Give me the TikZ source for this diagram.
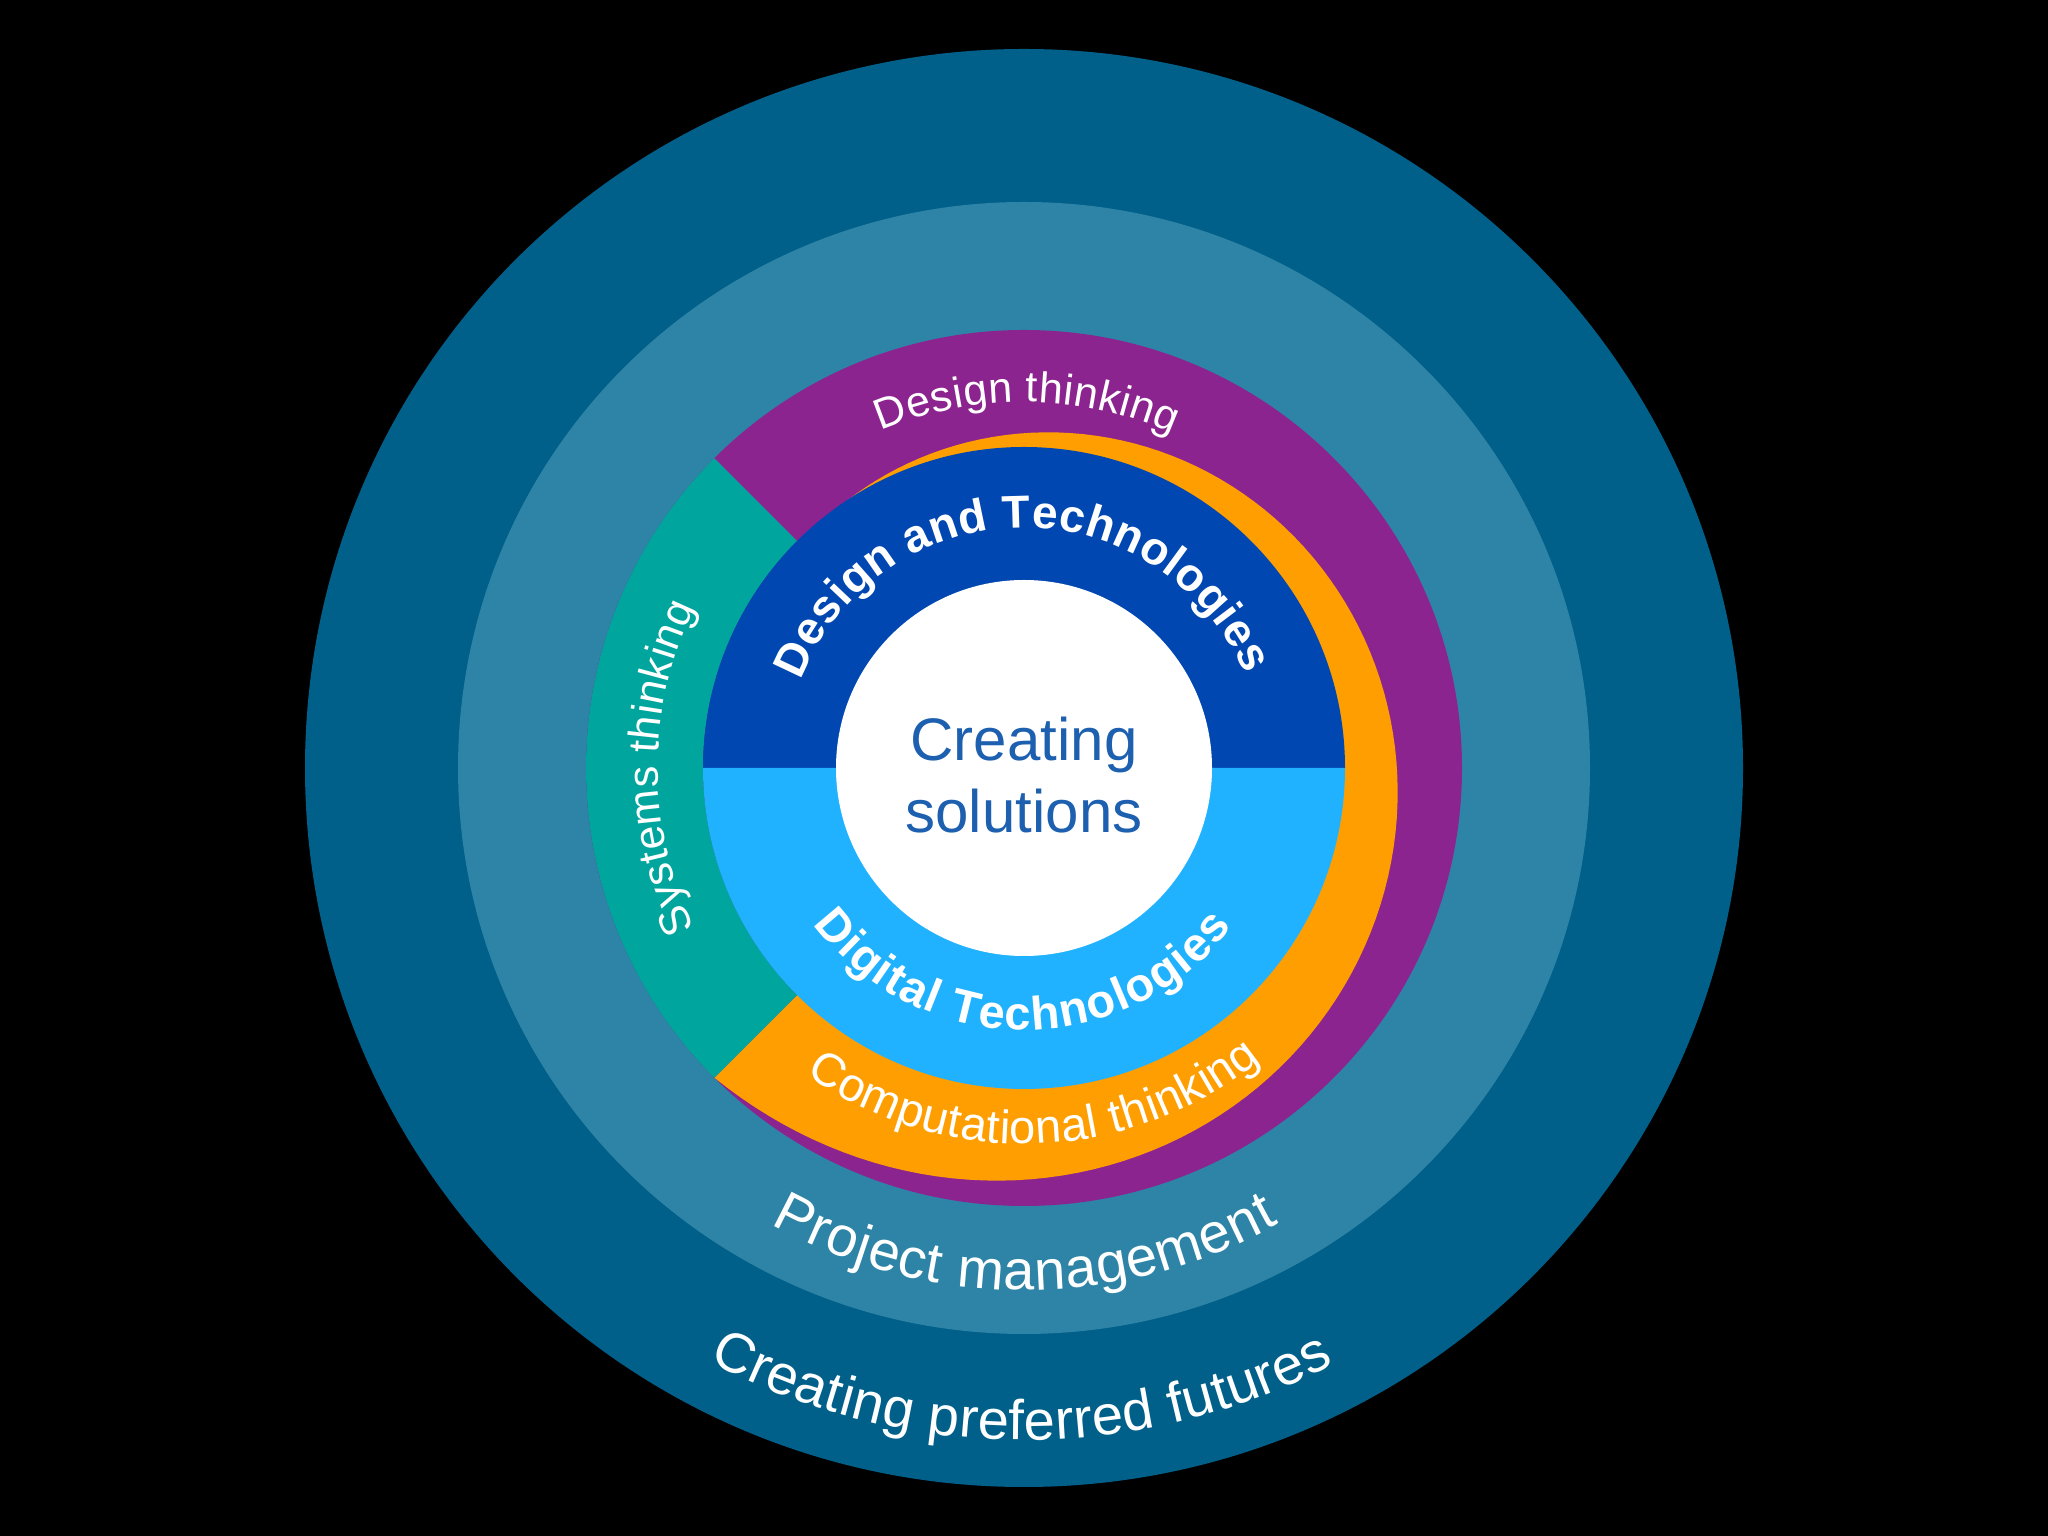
\documentclass[tikz,border=0pt]{standalone}
\usepackage{fontspec}
\setmainfont{Liberation Sans}
\usetikzlibrary{decorations.text}
\definecolor{outerc}{RGB}{0,96,138}
\definecolor{lightc}{RGB}{46,132,166}
\definecolor{purplec}{RGB}{140,36,143}
\definecolor{orangec}{RGB}{255,158,0}
\definecolor{tealc}{RGB}{0,166,157}
\definecolor{darkbluec}{RGB}{0,71,178}
\definecolor{lightbluec}{RGB}{32,178,255}
\definecolor{textbluec}{RGB}{30,96,176}
\newcommand\thinkfont{\color{white}\fontsize{12.24pt}{14pt}\selectfont}
\newcommand\compfont{\color{white}\fontsize{13.37pt}{15pt}\selectfont}
\newcommand\techfont{\color{white}\bfseries\fontsize{13.09pt}{15pt}\selectfont}
\newcommand\digifont{\color{white}\bfseries\fontsize{13.37pt}{15pt}\selectfont}
\newcommand\bigringfont{\color{white}\fontsize{15.93pt}{18pt}\selectfont}
\begin{document}
\begin{tikzpicture}[x=0.01cm,y=0.01cm,
  ringtext/.style={decorate, decoration={text along path, text align=fit to path, text={#1}}}]
\useasboundingbox (0,0) rectangle (2048,1536);
\fill[black] (0,0) rectangle (2048,1536);
\begin{scope}[shift={(1024,768)}]
  % rings
  \fill[outerc] (0,0) circle[radius=719];
  \fill[lightc] (0,0) circle[radius=566];
  \fill[purplec] (0,0) circle[radius=438];
  % orange spiral band
  \fill[orangec] (0,0) -- plot[domain=225:486, samples=120] (\x:{430-0.423*(\x-225)+8*exp(-(\x-225)/20)}) -- cycle;
  % teal sector
  \fill[tealc] (135:321) arc[start angle=135, end angle=225, radius=321] -- (225:438) arc[start angle=225, end angle=135, radius=438] -- cycle;
  % inner halves
  \fill[darkbluec] (321,0) arc[start angle=0, end angle=180, radius=321] -- cycle;
  \fill[lightbluec] (-321,0) arc[start angle=180, end angle=360, radius=321] -- cycle;
  \fill[white] (0,0) circle[radius=188];
  % centre text
  \node[textbluec, font=\fontsize{17.07pt}{20pt}\selectfont, anchor=base, inner sep=0pt] (cs1) at (0,7) {Creating};
  \node[textbluec, font=\fontsize{17.07pt}{20pt}\selectfont, anchor=base, inner sep=0pt] (cs2) at (0,-65) {solutions};
  % curved labels
  \path[ringtext={|\thinkfont|Design thinking}] (113:366) arc[start angle=113, end angle=66, radius=366];
  \path[ringtext={|\thinkfont|Systems thinking}] (206:366) arc[start angle=206, end angle=154, radius=366];
  \path[ringtext={|\techfont|Design and Technologies}] (158.6:240) arc[start angle=158.6, end angle=23, radius=240];
  \path[ringtext={|\digifont|Digital Technologies}] (216.5:262) arc[start angle=216.5, end angle=322.7, radius=262];
  \path[ringtext={|\compfont|Computational thinking}] (234.5:376) arc[start angle=234.5, end angle=309, radius=376];
  \path[ringtext={|\bigringfont|Project management}] (241:522) arc[start angle=241, end angle=299.2, radius=522];
  \path[ringtext={|\bigringfont|Creating preferred futures}] (242:672) arc[start angle=242, end angle=297.5, radius=672];
\end{scope}
\end{tikzpicture}
\end{document}
